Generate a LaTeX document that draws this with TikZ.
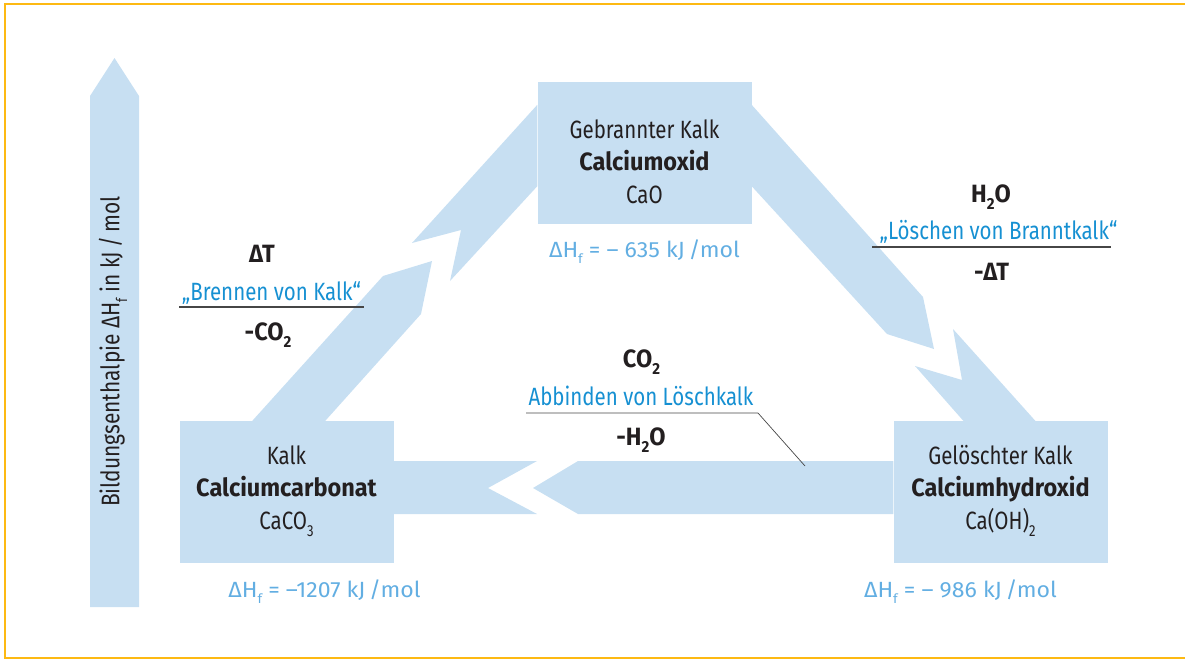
\documentclass[tikz,border=0pt]{standalone}
\usepackage{fontspec}
\setmainfont{Fira Sans}[FakeStretch=0.82]
\newfontfamily\kalkbold{Fira Sans}[FakeStretch=0.94]
\newfontfamily\dhfont{Fira Sans}[FakeStretch=1.05]
\newcommand{\boldname}[1]{{\kalkbold\bfseries #1}}
\newcommand{\sub}[2][16]{\raisebox{-0.3em}{\fontsize{#1}{#1}\selectfont #2}}
\usepackage{xcolor}
\definecolor{kalkblue}{RGB}{199, 223, 242}
\definecolor{procblue}{RGB}{22, 144, 210}
\definecolor{dhblue}{RGB}{98, 174, 226}
\definecolor{frameyellow}{RGB}{253, 185, 19}
\definecolor{textdark}{RGB}{35, 31, 32}
\definecolor{rulegray}{RGB}{70, 70, 70}
\usepackage{tikz}
\usetikzlibrary{positioning, calc, backgrounds}

\begin{document}
\begin{tikzpicture}[x=1pt, y=-1pt,
    box/.style={rectangle, fill=kalkblue, minimum width=214pt, minimum height=142pt, inner sep=0pt, align=center, text=textdark, font=\fontsize{25}{32.5}\selectfont, execute at begin node=\strut, execute at end node=\strut},
    band/.style={fill=kalkblue},
    dh/.style={anchor=base, inner sep=0pt, text=dhblue, font=\dhfont\fontsize{22}{26}\selectfont},
    proc/.style={anchor=base, inner sep=0pt, text=procblue, font=\fontsize{25}{28}\selectfont},
    chem/.style={anchor=base, inner sep=0pt, text=textdark, font=\kalkbold\bfseries\fontsize{25}{28}\selectfont},
    rule/.style={draw=rulegray, line width=1.2pt},
    leader/.style={draw=rulegray, line width=0.7pt},
    framerule/.style={draw=frameyellow, line width=2.5pt}]
    \useasboundingbox (0,0) rectangle (1185,662);

    % Frame
    \draw[framerule] (1190,4) -- (5,4) -- (5,658) -- (1190,658);

    % Axis: Bildungsenthalpie
    \fill[band] (90,607) -- (90,96) -- (114.5,58) -- (139,96) -- (139,607) -- cycle;
    \node[rotate=90, inner sep=0pt, text=textdark, font=\fontsize{25.5}{28}\selectfont] (axis) at (113,351.5) {Bildungsenthalpie ΔH\sub[15]{f} in kJ\,/\,mol};

    % Compounds
    \node[box] (cao) at (644.5,153) {\rule{0pt}{45pt}Gebrannter Kalk\\\boldname{Calciumoxid}\\CaO};
    \node[box] (kalk) at (286.5,492) {Kalk\\\boldname{Calciumcarbonat}\\CaCO\sub{3}};
    \node[box] (chyd) at (1000.5,492) {Gelöschter Kalk\\\boldname{Calciumhydroxid}\\Ca(OH)\sub{2}};

    \node[dh] (dhcao) at (644.5,257) {ΔH\sub[13]{f} = – 635 kJ\,/mol};
    \node[dh] (dhkalk) at (324.5,597) {ΔH\sub[13]{f} = –1207 kJ\,/mol};
    \node[dh] (dhchyd) at (960.5,597) {ΔH\sub[13]{f} = – 986 kJ\,/mol};

    % Arrows (broken bands)
    \begin{scope}[on background layer]
        % Kalk -> CaO
        \fill[band] ($(kalk.north west)+(73,0)$) -- (383,276) -- (432,261) -- (421,314) -- ($(kalk.north west)+(146,0)$) -- cycle;
        \fill[band] (412,243) -- (461,230) -- (450,281) -- ($(cao.south west)+(0,-38)$) -- ($(cao.north west)+(0,23)$) -- cycle;
        % CaO -> Ca(OH)2
        \fill[band] ($(cao.north east)+(0,23)$) -- (923,297) -- (934,349) -- (887,334) -- ($(cao.south east)+(0,-38)$) -- cycle;
        \fill[band] (915,366) -- (962,380) -- (953,329) -- ($(chyd.north west)+(142,0)$) -- ($(chyd.north west)+(70,0)$) -- cycle;
        % Ca(OH)2 -> Kalk
        \fill[band] ($(chyd.west)+(0,-31)$) -- (578,461) -- (533,488) -- (578,514) -- ($(chyd.west)+(0,22)$) -- cycle;
        \fill[band] ($(kalk.east)+(0,-31)$) -- (537,461) -- (488,488) -- (537,514) -- ($(kalk.east)+(0,22)$) -- cycle;
    \end{scope}

    % Brennen von Kalk
    \node[proc] (brenn) at (271.5,300) {„Brennen von Kalk“};
    \node[chem] (brennin) at (262,262) {ΔT};
    \node[chem] (brennout) at (268,340) {-CO\sub{2}};
    \draw[rule] ($(brenn.base)+(-92.5,7)$) -- ($(brenn.base)+(92.5,7)$);

    % Loeschen von Branntkalk
    \node[proc] (loesch) at (998.5,239) {„Löschen von Branntkalk“};
    \node[chem] (loeschin) at (991,202) {H\sub{2}O};
    \node[chem] (loeschout) at (991.5,280) {-ΔT};
    \draw[rule] ($(loesch.base)+(-126.5,8)$) -- ($(loesch.base)+(112.5,8)$);

    % Abbinden von Loeschkalk
    \node[proc] (abb) at (641,405) {Abbinden von Löschkalk};
    \node[chem] (abbin) at (641.5,367) {CO\sub{2}};
    \node[chem] (abbout) at (641,445) {-H\sub{2}O};
    \coordinate (abbtip) at (805,466);
    \draw[leader] ($(abb.base)+(-115,8)$) -- ($(abb.base)+(117,8)$) -- (abbtip);
\end{tikzpicture}
\end{document}
